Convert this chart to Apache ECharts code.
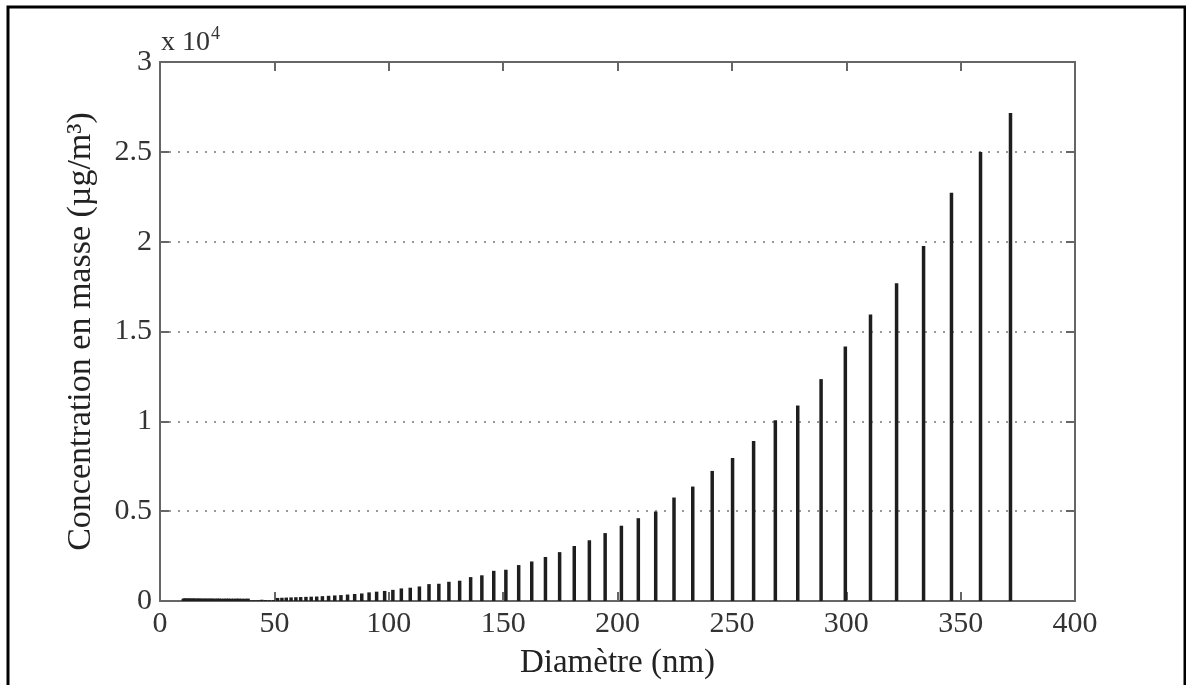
<!DOCTYPE html>
<html>
<head>
<meta charset="utf-8">
<script src="https://cdn.jsdelivr.net/npm/echarts@6/dist/echarts.min.js"></script>
<style>
html,body{margin:0;padding:0;background:#fff;}
#chart{width:1186px;height:685px;}
</style>
</head>
<body>
<div id="chart"></div>
<script>
// SMPS channel mid-point diameters (nm)
const diameters = [
  10.2,10.6,10.9,11.3,11.8,12.2,12.6,13.1,13.6,14.1,14.6,15.1,15.7,16.3,16.8,17.5,18.1,18.8,19.5,
  20.2,20.9,21.7,22.5,23.3,24.1,25.0,25.9,26.9,27.9,28.9,30.0,31.1,32.2,33.4,34.6,35.9,37.2,38.5,
  40.0,41.4,42.9,44.5,46.1,47.8,49.6,51.4,53.3,55.2,57.3,59.4,61.5,63.8,66.1,68.5,71.0,73.7,76.4,
  79.1,82.0,85.1,88.2,91.4,94.7,98.2,101.8,105.5,109.4,113.4,117.6,121.9,126.3,131.0,135.8,140.7,145.9,151.2,
  156.8,162.5,168.5,174.7,181.1,187.7,194.6,201.7,209.1,216.7,224.7,232.9,241.4,250.3,259.5,269.0,278.8,289.0,
  299.6,310.6,322.0,333.8,346.0,358.7,371.8
];
// mass concentration (µg/m³)
const massConc = [
  130,130,135,135,130,130,135,135,130,130,135,135,130,130,135,135,130,130,135,
  130,130,135,135,130,130,135,135,130,130,135,135,130,130,135,135,130,130,135,
  40,40,45,70,50,45,50,170,180,190,200,210,220,230,240,250,270,290,310,
  330,360,390,420,480,520,560,620,700,740,810,940,960,1070,1130,1330,1430,1680,1740,
  2000,2200,2450,2720,3060,3380,3780,4190,4610,4980,5760,6370,7240,7960,8910,10060,10880,12350,
  14160,15940,17690,19760,22720,24990,27160
];
const xTicks = {min: 0, max: 400, interval: 50};
const yTicks = {min: 0, max: 30000, interval: 5000};
const yScaleLabel = 'x 10';
const yScaleExp = '4';
const xName = 'Diamètre (nm)';
const yName = 'Concentration en masse (µg/m³)';

const seriesData = diameters.map((d, i) => [d, massConc[i]]);
const serif = '"Liberation Serif", "DejaVu Serif", serif';
const axisColor = '#666';

const chart = echarts.init(document.getElementById('chart'), null, {renderer: 'canvas'});
chart.setOption({
  backgroundColor: '#fff',
  animation: false,
  grid: {left: 160, right: 111, top: 62, bottom: 82, containLabel: false},
  xAxis: [{
    type: 'value', position: 'bottom',
    min: xTicks.min, max: xTicks.max, interval: xTicks.interval,
    name: xName, nameLocation: 'middle', nameGap: 46,
    nameTextStyle: {fontFamily: serif, fontSize: 33, color: '#222'},
    axisLine: {show: true, onZero: false, lineStyle: {color: axisColor, width: 2}},
    axisTick: {show: true, inside: true, length: 9, lineStyle: {color: axisColor, width: 2}},
    axisLabel: {fontFamily: serif, fontSize: 30, color: '#333', margin: 8},
    splitLine: {show: false}
  }, {
    type: 'value', position: 'top',
    min: xTicks.min, max: xTicks.max, interval: xTicks.interval,
    axisLine: {show: true, onZero: false, lineStyle: {color: axisColor, width: 2}},
    axisTick: {show: true, inside: true, length: 9, lineStyle: {color: axisColor, width: 2}},
    axisLabel: {show: false},
    splitLine: {show: false}
  }],
  yAxis: [{
    type: 'value', position: 'left',
    min: yTicks.min, max: yTicks.max, interval: yTicks.interval,
    name: yName, nameLocation: 'middle', nameGap: 62, nameRotate: 90,
    nameTextStyle: {fontFamily: serif, fontSize: 34, color: '#222'},
    axisLine: {show: true, onZero: false, lineStyle: {color: axisColor, width: 2}},
    axisTick: {show: true, inside: true, length: 9, lineStyle: {color: axisColor, width: 2}},
    axisLabel: {fontFamily: serif, fontSize: 30, color: '#333', margin: 8,
      formatter: v => String(v / 10000)},
    splitLine: {show: true, lineStyle: {color: '#777', width: 1.5, type: [2, 7]}}
  }, {
    type: 'value', position: 'right',
    min: yTicks.min, max: yTicks.max, interval: yTicks.interval,
    axisLine: {show: true, onZero: false, lineStyle: {color: axisColor, width: 2}},
    axisTick: {show: true, inside: true, length: 9, lineStyle: {color: axisColor, width: 2}},
    axisLabel: {show: false},
    splitLine: {show: false}
  }],
  series: [{
    type: 'bar',
    xAxisIndex: 0, yAxisIndex: 0,
    data: seriesData,
    barWidth: 3.5,
    itemStyle: {color: '#1e1e1e'},
    z: 1
  }],
  graphic: [{
    type: 'rect',
    shape: {x: 8, y: 7, width: 1177, height: 720},
    style: {fill: 'none', stroke: '#000', lineWidth: 3},
    silent: true
  }, {
    type: 'text',
    left: 161, top: 25,
    style: {
      text: '{b|' + yScaleLabel + '}{s|' + yScaleExp + '}',
      rich: {
        b: {fontFamily: serif, fontSize: 28, fill: '#333', verticalAlign: 'bottom', lineHeight: 30},
        s: {fontFamily: serif, fontSize: 18, fill: '#333', verticalAlign: 'top', padding: [0, 0, 14, 1]}
      }
    }
  }]
});
</script>
</body>
</html>
